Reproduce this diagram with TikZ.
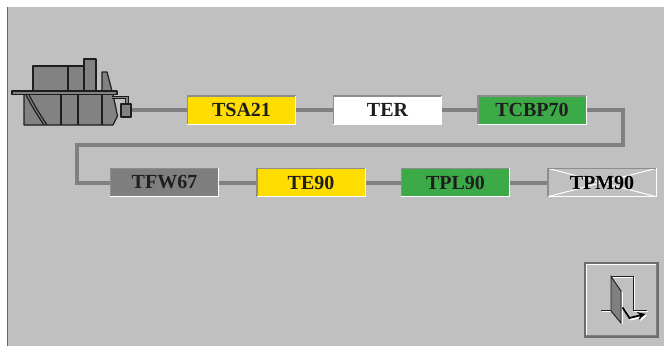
\documentclass[tikz,border=0pt]{standalone}
\usepackage{fontspec}
\setmainfont{Liberation Serif}
\usetikzlibrary{arrows.meta}
\definecolor{panel}{HTML}{C0C0C0}
\definecolor{pipe}{HTML}{808080}
\definecolor{tagyellow}{HTML}{FFDD00}
\definecolor{taggreen}{HTML}{3DAA48}
\definecolor{taggrey}{HTML}{7F7F7F}
\definecolor{hullgrey}{HTML}{828282}
\definecolor{ink}{HTML}{1E1E1E}
\tikzset{
  tag/.style={minimum width=108pt, minimum height=28pt, inner sep=0pt,
    font=\fontsize{20}{20}\selectfont\bfseries, text=ink},
  link/.style={draw=pipe, line width=4pt},
  hull/.style={fill=hullgrey, draw=ink, line width=1.2pt, line join=round},
  hullline/.style={draw=ink, line width=1.2pt},
  bevel dark/.style={draw=pipe!90, line width=1.4pt},
  bevel light/.style={draw=white, line width=1.4pt},
}
\newcommand{\sunken}[1]{%
  \draw[bevel dark] (#1.south west) -- (#1.north west) -- (#1.north east);
  \draw[bevel light] (#1.north east) -- (#1.south east) -- (#1.south west);}
\begin{document}
\begin{tikzpicture}[x=1pt, y=-1pt]
  \useasboundingbox (0,0) rectangle (664,346);
  \fill[white] (0,0) rectangle (664,346);
  \fill[panel] (7,7) rectangle (664,346);
  \draw[pipe!80!black, line width=1.5pt] (7.5,7) -- (7.5,346);

  % --- ship ---
  \draw[hull] (24,94) -- (113,94) -- (117.5,116) -- (113,125) -- (24,125) -- cycle;
  \draw[hullline] (26,95) .. controls (33,108) .. (44,125);
  \draw[hullline] (29,95) .. controls (36,108) .. (47,125);
  \foreach \xx in {61,78,102} \draw[hullline] (\xx,94) -- (\xx,125);
  \draw[hull] (33,66) rectangle (84,91);
  \draw[hullline] (68,66) -- (68,91);
  \draw[hull] (84,59) rectangle (96,91);
  \draw[hull] (102,72) -- (107,72) -- (112,91) -- (102,91) -- cycle;
  \draw[hull] (12,91) rectangle (117,94.5);
  \draw[ink, line width=3.6pt, line join=miter] (112,97.5) -- (127,97.5) -- (127,104);
  \draw[hullgrey, line width=1.6pt, line join=miter] (112,97.5) -- (127,97.5) -- (127,104);
  \coordinate (shipout) at (131,110);

  % --- connectors ---
  \node[tag] (tsa) at (241.5,110) {};
  \node[tag] (ter) at (387.5,110) {};
  \node[tag] (tcbp) at (532,110) {};
  \node[tag] (tfw) at (164.5,182.5) {};
  \node[tag] (te) at (311,182.5) {};
  \node[tag] (tpl) at (455.5,182.5) {};
  \node[tag] (tpm) at (602,182.5) {};
  \coordinate (turnr) at (623,145);
  \coordinate (turnl) at (77,145);
  \draw[link] (shipout) -- (tsa.west);
  \draw[link] (tsa.east) -- (ter.west);
  \draw[link] (ter.east) -- (tcbp.west);
  \draw[link, line join=miter] (tcbp.east) -| (turnr) -- (turnl) |- (tfw.west);
  \draw[link] (tfw.east) -- (te.west);
  \draw[link] (te.east) -- (tpl.west);
  \draw[link] (tpl.east) -- (tpm.west);
  \draw[hull] (121,104) rectangle (131,117);

  % --- tags ---
  \node[tag, fill=tagyellow] at (tsa) {TSA21};
  \node[tag, fill=white] at (ter) {TER};
  \node[tag, fill=taggreen] at (tcbp) {TCBP70};
  \node[tag, fill=taggrey] at (tfw) {TFW67};
  \node[tag, fill=tagyellow] at (te) {TE90};
  \node[tag, fill=taggreen] at (tpl) {TPL90};
  \fill[panel] (tpm.south west) rectangle (tpm.north east);
  \draw[white, line width=1pt] (tpm.north west) -- (tpm.south east);
  \draw[white, line width=1pt] (tpm.south west) -- (tpm.north east);
  \node[tag, text=black] at (tpm) {TPM90};
  \foreach \n in {tsa,ter,tcbp,tfw,te,tpl,tpm} {\sunken{\n}}

  % --- exit button ---
  \node[minimum width=73pt, minimum height=74pt, inner sep=0pt, fill=panel,
        draw=pipe!85!black, line width=1.5pt] (exitbtn) at (621.5,300) {};
  \draw[white, line width=1.3pt] ([shift={(2.2,-2.2)}]exitbtn.south west)
     -- ([shift={(2.2,2.2)}]exitbtn.north west) -- ([shift={(-2.2,2.2)}]exitbtn.north east);
  \draw[pipe, line width=1.3pt] ([shift={(-2.2,2.2)}]exitbtn.north east)
     -- ([shift={(-2.2,-2.2)}]exitbtn.south east) -- ([shift={(2.2,-2.2)}]exitbtn.south west);
  % door frame and floor
  \draw[white, line width=1pt] (602,311.5) -- (612,311.5);
  \draw[white, line width=1pt] (613,277.5) -- (634.5,277.5) -- (634.5,311.5) -- (648,311.5);
  \draw[ink, line width=1pt] (601,310) -- (611,310);
  \draw[ink, line width=1pt] (611,276.5) -- (633,276.5) -- (633,310) -- (647,310);
  % door leaf
  \draw[fill=pipe, draw=ink, line width=0.9pt] (611,276.5) -- (621,291) -- (621,323) -- (611,311) -- cycle;
  \draw[white, line width=0.9pt] (622,292) -- (622,324);
  % arrow
  \draw[white, line width=1.8pt, -{Stealth[length=8pt, width=8pt]}]
     (624,309) -- (631,319.5) -- (647,315.5);
  \draw[black, line width=1.8pt, -{Stealth[length=8pt, width=8pt]}]
     (622.5,307.5) -- (629.5,318) -- (645.5,314);
\end{tikzpicture}
\end{document}
